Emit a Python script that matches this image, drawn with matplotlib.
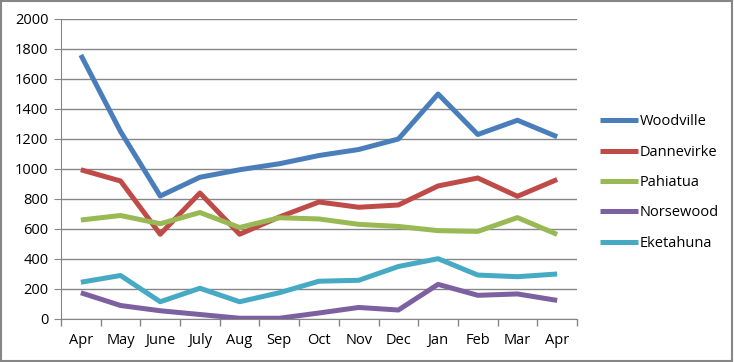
import matplotlib
matplotlib.use('Agg')
import matplotlib.pyplot as plt
from matplotlib.patches import Rectangle
import numpy as np

months = ['Apr', 'May', 'June', 'July', 'Aug', 'Sep', 'Oct', 'Nov', 'Dec', 'Jan', 'Feb', 'Mar', 'Apr']

woodville = [1760, 1250, 820, 945, 995, 1035, 1090, 1130, 1200, 1500, 1230, 1325, 1215]
dannevirke = [995, 920, 565, 840, 565, 680, 780, 745, 760, 887, 940, 818, 930]
pahiatua = [660, 690, 635, 710, 610, 675, 667, 631, 617, 589, 584, 676, 564]
norsewood = [175, 90, 55, 30, 5, 5, 40, 77, 60, 231, 158, 167, 124]
eketahuna = [245, 290, 115, 205, 115, 175, 252, 258, 350, 402, 293, 282, 300]

series = [
    ('Woodville', woodville, '#4A7EBB'),
    ('Dannevirke', dannevirke, '#BE4B48'),
    ('Pahiatua', pahiatua, '#98B954'),
    ('Norsewood', norsewood, '#7D60A0'),
    ('Eketahuna', eketahuna, '#46AAC5'),
]

plt.rcParams['font.family'] = ['Open Sans', 'DejaVu Sans']

fig = plt.figure(figsize=(7.34, 3.62), dpi=100)
ax = fig.add_axes([61 / 734, 1 - 319 / 362, (577 - 61) / 734, (319 - 19) / 362])

x = np.arange(len(months))
for name, vals, col in series:
    ax.plot(x, vals, color=col, linewidth=3.6, label=name, solid_capstyle='butt')

ax.set_xlim(-0.5, len(months) - 0.5)
ax.set_ylim(0, 2000)
ax.set_yticks(range(0, 2001, 200))
ax.set_xticks(x)
ax.set_xticklabels(months)
ax.set_xticks(np.arange(-0.5, len(months)), minor=True)
ax.tick_params(axis='x', which='major', length=0, pad=10, labelsize=10.5)
ax.tick_params(axis='x', which='minor', length=5, color='#868686', width=1)
ax.tick_params(axis='y', length=5, color='#868686', labelsize=10.5, pad=4)

ax.grid(axis='y', color='#868686', linewidth=1)
ax.set_axisbelow(True)
for s in ['top', 'right']:
    ax.spines[s].set_visible(False)
ax.spines['left'].set_color('#868686')
ax.spines['bottom'].set_color('#868686')

ax.legend(loc='center left', bbox_to_anchor=(1.02, 0.455), frameon=False,
          fontsize=10.5, handlelength=2.6, handletextpad=0.1, labelspacing=1.05)

fig.patches.append(Rectangle((0.002, 0.003), 0.995, 0.993, transform=fig.transFigure,
                             fill=False, edgecolor='#868686', linewidth=1.5))

fig.savefig('out.png', dpi=100)
